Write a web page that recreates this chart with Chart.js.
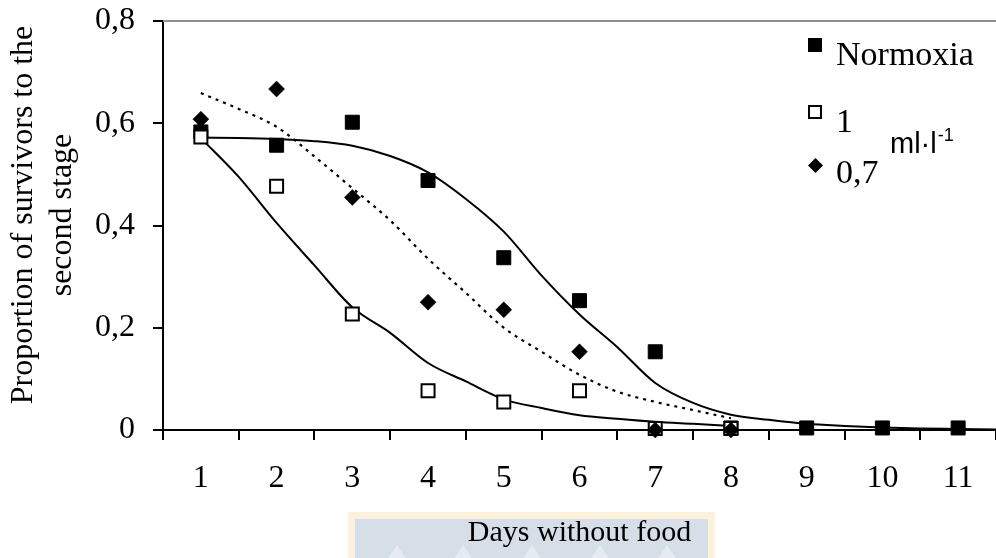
<!DOCTYPE html>
<html>
<head>
<meta charset="utf-8">
<title>Proportion of survivors to the second stage</title>
<script src="https://cdn.jsdelivr.net/npm/chart.js@4.4.1/dist/chart.umd.min.js"></script>
<style>
  html, body { margin: 0; padding: 0; background: #fff; }
  #wrap { width: 996px; height: 558px; position: relative; }
  canvas { display: block; }
</style>
</head>
<body>
<div id="wrap"><canvas id="chart" width="996" height="558"></canvas></div>
<script>
// ---- data ----------------------------------------------------------------
const dayLabels = ['1', '2', '3', '4', '5', '6', '7', '8', '9', '10', '11'];
const days = [1, 2, 3, 4, 5, 6, 7, 8, 9, 10, 11];

// observed proportions
const normoxia = [0.583, 0.557, 0.602, 0.488, 0.337, 0.253, 0.153, 0.004, 0.004, 0.004, 0.004];
const oneMl = [0.573, 0.477, 0.227, 0.077, 0.055, 0.077, 0.003, 0.003];          // days 1-8
const pointSevenMl = [0.608, 0.667, 0.455, 0.250, 0.235, 0.153, 0.0, 0.0];       // days 1-8

// fitted curves, sampled every half day
const normoxiaFitDays = [1, 1.5, 2, 2.5, 3, 3.5, 4, 4.5, 5, 5.5, 6, 6.5, 7, 7.5, 8, 8.5, 9, 9.5, 10, 10.5, 11, 11.5];
const normoxiaFit = [0.572, 0.571, 0.569, 0.565, 0.556, 0.536, 0.504, 0.452, 0.388, 0.302, 0.226, 0.162, 0.092, 0.053, 0.030, 0.020, 0.012, 0.008, 0.005, 0.003, 0.002, 0.001];
const oneMlFitDays = [1, 1.5, 2, 2.5, 3, 3.5, 4, 4.5, 5, 5.5, 6, 6.5, 7, 7.5, 8];
const oneMlFit = [0.571, 0.495, 0.405, 0.322, 0.240, 0.190, 0.131, 0.095, 0.060, 0.043, 0.029, 0.022, 0.016, 0.012, 0.008];
const pointSevenFitDays = [1, 1.5, 2, 2.5, 3, 3.5, 4, 4.5, 5, 5.5, 6, 6.5, 7, 7.5, 8];
const pointSevenFit = [0.659, 0.628, 0.593, 0.535, 0.473, 0.410, 0.335, 0.268, 0.200, 0.153, 0.108, 0.075, 0.055, 0.039, 0.023];

const yTickValues = [0, 0.2, 0.4, 0.6, 0.8];

const yTitleLines = ['Proportion of survivors to the', 'second stage'];
const seriesNames = ['Normoxia', '1', '0,7'];
const unitText = 'ml\u00B7l';
const unitExponent = '-1';

// ---- helpers -------------------------------------------------------------
const SERIF = "'Liberation Serif', 'Times New Roman', Times, serif";
const SANS = "'Liberation Sans', Arial, Helvetica, sans-serif";

function toPoints(xs, ys) {
  return ys.map((y, i) => ({ x: xs[i], y: y }));
}

function formatComma(v) {
  if (v === 0) return '0';
  return v.toFixed(1).replace('.', ',');
}

// keep tick labels from pushing the plot area inwards
function noEdgePadding(scale) {
  scale.paddingTop = 0;
  scale.paddingBottom = 0;
  scale.paddingLeft = 0;
  scale.paddingRight = 0;
}

// white page, the pale banner behind the x-axis title
const backdrop = {
  id: 'backdrop',
  beforeDraw(chart) {
    const ctx = chart.ctx;
    ctx.save();
    ctx.fillStyle = '#ffffff';
    ctx.fillRect(0, 0, chart.width, chart.height);
    // banner
    ctx.fillStyle = '#fcf1dd';
    ctx.fillRect(348, 512, 367, 50);
    ctx.fillStyle = '#d6dee7';
    ctx.fillRect(355, 519, 353, 45);
    ctx.fillStyle = '#e6ebf1';
    [397, 463, 532, 600, 667].forEach(px => {
      ctx.beginPath();
      ctx.moveTo(px, 545);
      ctx.lineTo(px - 10, 560);
      ctx.lineTo(px + 10, 560);
      ctx.closePath();
      ctx.fill();
    });
    ctx.restore();
  }
};

// top frame line, the rotated y-axis title and the key in the upper right
const frameAndKey = {
  id: 'frameAndKey',
  afterDraw(chart) {
    const ctx = chart.ctx;
    const area = chart.chartArea;
    ctx.save();
    ctx.strokeStyle = '#8f8f8f';
    ctx.lineWidth = 2;
    ctx.beginPath();
    ctx.moveTo(area.left, area.top);
    ctx.lineTo(chart.width, area.top);
    ctx.stroke();

    // y-axis title, two centred lines reading upwards
    ctx.save();
    ctx.translate(24, 215);
    ctx.rotate(-Math.PI / 2);
    ctx.fillStyle = '#000';
    ctx.font = '32px ' + SERIF;
    ctx.textAlign = 'center';
    ctx.textBaseline = 'middle';
    yTitleLines.forEach((line, i) => ctx.fillText(line, 0, i * 38.4));
    ctx.restore();

    // markers
    ctx.fillStyle = '#000';
    ctx.fillRect(808, 38, 14, 14);
    ctx.fillStyle = '#fff';
    ctx.strokeStyle = '#000';
    ctx.lineWidth = 2;
    ctx.fillRect(809, 106, 12, 12);
    ctx.strokeRect(809, 106, 12, 12);
    ctx.fillStyle = '#000';
    ctx.beginPath();
    ctx.moveTo(815.5, 158);
    ctx.lineTo(823, 165.5);
    ctx.lineTo(815.5, 173);
    ctx.lineTo(808, 165.5);
    ctx.closePath();
    ctx.fill();

    // labels
    ctx.fillStyle = '#000';
    ctx.textAlign = 'left';
    ctx.textBaseline = 'alphabetic';
    ctx.font = '34px ' + SERIF;
    ctx.fillText(seriesNames[0], 836, 65);
    ctx.fillText(seriesNames[1], 836, 132);
    ctx.fillText(seriesNames[2], 836, 183);

    ctx.font = '29px ' + SANS;
    ctx.fillText(unitText, 890, 153);
    const w = ctx.measureText(unitText).width;
    ctx.font = '18px ' + SANS;
    ctx.fillText(unitExponent, 890 + w + 1, 141);
    ctx.restore();
  }
};

// ---- chart ---------------------------------------------------------------
const ctx = document.getElementById('chart').getContext('2d');

new Chart(ctx, {
  type: 'scatter',
  data: {
    datasets: [
      {
        label: '0,7',
        data: toPoints(days, pointSevenMl),
        xAxisID: 'xv', yAxisID: 'y',
        pointStyle: 'rectRot', pointRadius: 8, pointBorderWidth: 0.5,
        backgroundColor: '#000', borderColor: '#000',
        showLine: false, clip: false, order: 0
      },
      {
        label: '1',
        data: toPoints(days, oneMl),
        xAxisID: 'xv', yAxisID: 'y',
        pointStyle: 'rect', pointRadius: 9.2, pointBorderWidth: 2,
        backgroundColor: '#fff', borderColor: '#000',
        showLine: false, clip: false, order: 1
      },
      {
        label: 'Normoxia',
        data: toPoints(days, normoxia),
        xAxisID: 'xv', yAxisID: 'y',
        pointStyle: 'rect', pointRadius: 9.9, pointBorderWidth: 1,
        backgroundColor: '#000', borderColor: '#000',
        showLine: false, clip: false, order: 2
      },
      {
        label: 'Normoxia fit',
        data: toPoints(normoxiaFitDays, normoxiaFit),
        xAxisID: 'xv', yAxisID: 'y',
        showLine: true, pointRadius: 0, borderColor: '#000', borderWidth: 2,
        cubicInterpolationMode: 'monotone', order: 3
      },
      {
        label: '1 fit',
        data: toPoints(oneMlFitDays, oneMlFit),
        xAxisID: 'xv', yAxisID: 'y',
        showLine: true, pointRadius: 0, borderColor: '#000', borderWidth: 2,
        cubicInterpolationMode: 'monotone', order: 4
      },
      {
        label: '0,7 fit',
        data: toPoints(pointSevenFitDays, pointSevenFit),
        xAxisID: 'xv', yAxisID: 'y',
        showLine: true, pointRadius: 0, borderColor: '#000', borderWidth: 2.2,
        borderDash: [3, 5],
        cubicInterpolationMode: 'monotone', order: 5
      }
    ]
  },
  options: {
    responsive: false,
    devicePixelRatio: 1,
    animation: false,
    events: [],
    layout: { autoPadding: false, padding: { top: 21, right: 0, bottom: 0, left: 0 } },
    plugins: {
      legend: { display: false },
      tooltip: { enabled: false }
    },
    scales: {
      x: {
        type: 'category',
        labels: dayLabels,
        position: 'bottom',
        offset: true,
        grid: {
          offset: true, drawOnChartArea: false, drawTicks: true,
          tickLength: 10, color: '#000', lineWidth: 2
        },
        border: { display: true, color: '#000', width: 2 },
        ticks: {
          color: '#000', padding: 19, maxRotation: 0, autoSkip: false,
          font: { family: SERIF, size: 32 }
        },
        title: {
          display: true, text: 'Days without food', color: '#000',
          font: { family: SERIF, size: 30 },
          padding: { top: 0, bottom: 7 }
        },
        afterFit(scale) { scale.height = 128; noEdgePadding(scale); }
      },
      xv: {
        type: 'linear',
        position: 'bottom',
        min: 0.5, max: 11.5,
        display: false,
        afterFit(scale) { noEdgePadding(scale); }
      },
      y: {
        type: 'linear',
        position: 'left',
        min: 0, max: 0.8,
        afterBuildTicks(scale) {
          scale.ticks = yTickValues.map(v => ({ value: v }));
        },
        grid: {
          drawOnChartArea: false, drawTicks: true,
          tickLength: 10, color: '#000', lineWidth: 2
        },
        border: { display: true, color: '#000', width: 2 },
        ticks: {
          color: '#000', padding: 18,
          font: { family: SERIF, size: 32 },
          callback: v => formatComma(v)
        },
        afterFit(scale) { scale.width = 163; noEdgePadding(scale); }
      }
    }
  },
  plugins: [backdrop, frameAndKey]
});
</script>
</body>
</html>
